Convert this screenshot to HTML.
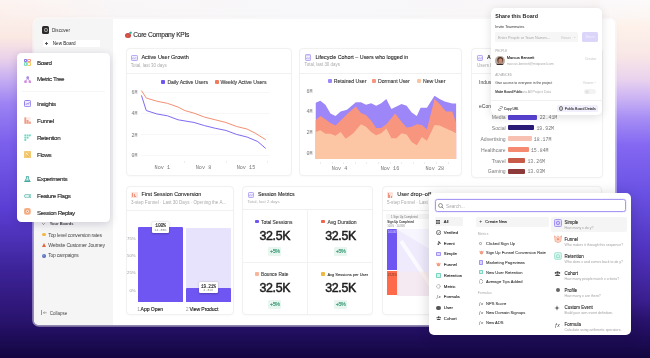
<!DOCTYPE html>
<html><head><meta charset="utf-8">
<style>
*{margin:0;padding:0;box-sizing:border-box}
html,body{width:650px;height:358px;overflow:hidden}
body{position:relative;font-family:"Liberation Sans",sans-serif;background:#fff}
#w{position:absolute;left:0;top:0;width:650px;height:358px;overflow:hidden;will-change:transform;}
.a{position:absolute}
.t{position:absolute;white-space:nowrap;line-height:1}
</style></head><body><div id="w">
<div class="a" style="left:0;top:0;width:650px;height:358px;background:linear-gradient(180deg,#fdf4f1 0px,#fae8e2 38px,#ead2ea 58px,#c4acf2 80px,#9c82f3 104px,#7a5eec 145px,#5a3dd2 210px,#3c2296 272px,#2a1470 318px,#1e0c58 338px,#140640 358px)"></div>
<div class="a" style="left:600px;top:0;width:50px;height:358px;background:linear-gradient(180deg,#fefcfb 0px,#fdf1ea 28px,#f8e6e6 56px,#e8d2ee 80px,#c8b0f4 100px,#a68ef4 118px,#8468f2 145px,#6a52e4 192px,#5034c0 250px,#3a1f90 300px,#2a1470 318px,#1e0c58 338px,#140640 358px)"></div>
<div class="a" style="left:0;top:0;width:650px;height:19px;background:linear-gradient(90deg,rgba(248,247,249,0) 0px,rgba(248,247,249,0.85) 120px,#f8f7f9 325px,rgba(248,247,249,0.85) 560px,rgba(248,247,249,0.3) 650px)"></div>
<div class="a" style="left:33.6px;top:19px;width:581.4px;height:306px;border-radius:5px;background:#fff;box-shadow:0 0 0 1.8px rgba(255,255,255,0.5),0 0 5px rgba(0,0,0,0.06)"></div>
<div class="a" style="left:33.6px;top:19px;width:79.4px;height:306px;border-radius:5px 0 0 5px;background:#f5f5f5"></div>
<div class="a" style="left:42.00px;top:26.40px;width:7.20px;height:7.40px;background:#2b2b2b;border-radius:1.6px"></div>
<div class="a" style="left:43.60px;top:28.00px;width:4.00px;height:4.20px;border:0.7px solid #aaa;border-radius:50%"></div>
<div class="t" style="left:52.00px;top:28.90px;font-size:4.628px;font-weight:400;color:#333;font-family:'Liberation Sans',sans-serif;">Discover</div>
<div class="a" style="left:42.60px;top:39.70px;width:57.00px;height:7.40px;background:#fff;border-radius:1px"></div>
<div class="a" style="left:44.80px;top:42.90px;width:3.20px;height:0.45px;background:#555"></div>
<div class="a" style="left:46.17px;top:41.50px;width:0.45px;height:3.25px;background:#555"></div>
<div class="t" style="left:52.80px;top:42.21px;font-size:4.609px;font-weight:400;color:#222;font-family:'Liberation Sans',sans-serif;">New Board</div>
<div class="t" style="left:49.70px;top:221.88px;font-size:4.049px;font-weight:700;color:#444;font-family:'Liberation Sans',sans-serif;">Your Boards</div>
<svg class="a" style="left:42.2px;top:222.6px" width="3" height="2" viewBox="0 0 6 4"><path d="M0.5 0.5 L3 3 L5.5 0.5" stroke="#444" stroke-width="1.1" fill="none"/></svg>
<div class="a" style="left:42.00px;top:232.60px;width:4.20px;height:3.80px;background:#f2b844;border-radius:1.5px"></div>
<div class="t" style="left:48.30px;top:232.71px;font-size:5.109px;font-weight:400;color:#484848;font-family:'Liberation Sans',sans-serif;letter-spacing:-0.207px;">Top level conversion rates</div>
<div class="a" style="left:41.8px;top:242.6px;width:0;height:0;border-left:2.3px solid transparent;border-right:2.3px solid transparent;border-bottom:4.4px solid #e0683e"></div>
<div class="t" style="left:48.30px;top:242.91px;font-size:5.161px;font-weight:400;color:#484848;font-family:'Liberation Sans',sans-serif;letter-spacing:-0.235px;">Website Customer Journey</div>
<div class="a" style="left:42.00px;top:253.70px;width:4.40px;height:4.40px;background:radial-gradient(circle at 40% 40%,#6fa0e0,#4a3a9a);border-radius:50%"></div>
<div class="t" style="left:48.30px;top:253.93px;font-size:4.955px;font-weight:400;color:#484848;font-family:'Liberation Sans',sans-serif;letter-spacing:-0.233px;">Top campaigns</div>
<div class="a" style="left:41.20px;top:309.90px;width:0.45px;height:5.40px;background:#999"></div>
<svg class="a" style="left:42.6px;top:310.8px" width="4" height="3.6" viewBox="0 0 8 7"><path d="M3.5 0.8 L0.8 3.5 L3.5 6.2 M0.8 3.5 L7.5 3.5" stroke="#666" stroke-width="1" fill="none"/></svg>
<div class="t" style="left:49.70px;top:311.81px;font-size:4.523px;font-weight:400;color:#4a4a4a;font-family:'Liberation Sans',sans-serif;">Collapse</div>
<div class="a" style="left:124.80px;top:33.00px;width:5.80px;height:5.40px;background:radial-gradient(circle at 45% 55%,#e25a4a,#b83a3a);border-radius:50%"></div>
<div class="a" style="left:129.00px;top:32.20px;width:2.50px;height:2.00px;background:#3bb0a0;border-radius:1px;transform:rotate(-30deg)"></div>
<div class="t" style="left:133.20px;top:31.88px;font-size:6.635px;font-weight:400;color:#222;font-family:'Liberation Sans',sans-serif;-webkit-text-stroke:0.09px #222;letter-spacing:-0.264px;">Core Company KPIs</div>
<div class="a" style="left:125.60px;top:48.40px;width:166.20px;height:127.40px;background:#fff;border:0.8px solid #f1f1f1;border-radius:4px;box-shadow:0 0.5px 1.5px rgba(0,0,0,0.025)"></div>
<div class="a" style="left:184.00px;top:160.80px;width:0.60px;height:2.40px;background:#eeeeee"></div>
<div class="a" style="left:225.50px;top:160.80px;width:0.60px;height:2.40px;background:#eeeeee"></div>
<div class="a" style="left:267.00px;top:160.80px;width:0.60px;height:2.40px;background:#eeeeee"></div>
<div class="a" style="left:131.40px;top:54.70px;width:6.20px;height:6.20px;background:#d9d0fb;border:0.6px solid #b9abf6;border-radius:1.2px"></div>
<div class="a" style="left:132.40px;top:55.80px;width:4.20px;height:0.50px;background:#f4f1fe"></div>
<div class="a" style="left:132.40px;top:57.10px;width:4.20px;height:2.80px;background:#ece7fd"></div>
<svg class="a" style="left:132.40px;top:57.10px" width="4.20" height="2.80" viewBox="0 0 10 6" preserveAspectRatio="none"><path d="M0 4.5 L3 2 L6 3.5 L10 1" stroke="#a090f2" stroke-width="1.3" fill="none"/></svg>
<div class="t" style="left:141.40px;top:55.40px;font-size:5.515px;font-weight:400;color:#222;font-family:'Liberation Sans',sans-serif;-webkit-text-stroke:0.09px #222;">Active User Growth</div>
<div class="t" style="left:130.80px;top:63.52px;font-size:4.510px;font-weight:400;color:#aaa;font-family:'Liberation Sans',sans-serif;">Total, last 30 days</div>
<div class="a" style="left:125.60px;top:73.30px;width:166.20px;height:0.70px;background:#f0f0f0"></div>
<div class="a" style="left:161.40px;top:80.40px;width:4.00px;height:4.00px;background:#6f55f2;border-radius:1px"></div>
<div class="t" style="left:167.40px;top:80.31px;font-size:5.150px;font-weight:400;color:#333;font-family:'Liberation Sans',sans-serif;-webkit-text-stroke:0.09px #333;letter-spacing:-0.05px">Daily Active Users</div>
<div class="a" style="left:214.60px;top:80.40px;width:4.00px;height:4.00px;background:#f07a5c;border-radius:1px"></div>
<div class="t" style="left:220.60px;top:80.31px;font-size:5.150px;font-weight:400;color:#333;font-family:'Liberation Sans',sans-serif;-webkit-text-stroke:0.09px #333;letter-spacing:-0.05px">Weekly Active Users</div>
<div class="t" style="left:131.60px;top:91.10px;font-size:4.916px;font-weight:400;color:#777;font-family:'Liberation Mono',monospace;">6M</div>
<div class="a" style="left:141.00px;top:91.70px;width:128.70px;height:0.70px;background:#f7f7f7"></div>
<div class="t" style="left:131.60px;top:112.30px;font-size:4.916px;font-weight:400;color:#777;font-family:'Liberation Mono',monospace;">4M</div>
<div class="a" style="left:141.00px;top:112.90px;width:128.70px;height:0.70px;background:#f7f7f7"></div>
<div class="t" style="left:131.60px;top:133.50px;font-size:4.916px;font-weight:400;color:#777;font-family:'Liberation Mono',monospace;">2M</div>
<div class="a" style="left:141.00px;top:134.10px;width:128.70px;height:0.70px;background:#f7f7f7"></div>
<div class="t" style="left:131.60px;top:154.20px;font-size:4.916px;font-weight:400;color:#777;font-family:'Liberation Mono',monospace;">0M</div>
<div class="a" style="left:141.00px;top:154.80px;width:128.70px;height:0.70px;background:#f7f7f7"></div>
<div class="t" style="left:154.60px;top:166.29px;font-size:5.200px;font-weight:400;color:#777;font-family:'Liberation Mono',monospace;">Nov 1</div>
<div class="t" style="left:195.70px;top:166.29px;font-size:5.200px;font-weight:400;color:#777;font-family:'Liberation Mono',monospace;">Nov 8</div>
<div class="t" style="left:236.64px;top:166.29px;font-size:5.200px;font-weight:400;color:#777;font-family:'Liberation Mono',monospace;">Nov 15</div>
<svg class="a" style="left:125px;top:80px" width="150" height="95" viewBox="0 0 565 358" preserveAspectRatio="none"><polyline points="62,40 80,68 120,80 160,88 200,102 225,115 260,125 300,140 340,150 380,160 420,175 460,185 490,200 530,225" fill="none" stroke="#f08a6c" stroke-width="3.6" stroke-linejoin="round"/><polyline points="62,58 80,115 120,128 160,135 200,150 260,160 300,172 340,182 380,190 420,205 460,215 500,232 530,258" fill="none" stroke="#7a62f0" stroke-width="3.6" stroke-linejoin="round"/></svg>
<div class="a" style="left:299.40px;top:48.40px;width:162.90px;height:127.60px;background:#fff;border:0.8px solid #f1f1f1;border-radius:4px;box-shadow:0 0.5px 1.5px rgba(0,0,0,0.025)"></div>
<div class="a" style="left:320.00px;top:161.60px;width:0.60px;height:2.00px;background:#eeeeee"></div>
<div class="a" style="left:331.60px;top:161.60px;width:0.60px;height:2.00px;background:#eeeeee"></div>
<div class="a" style="left:343.20px;top:161.60px;width:0.60px;height:2.00px;background:#eeeeee"></div>
<div class="a" style="left:354.80px;top:161.60px;width:0.60px;height:2.00px;background:#eeeeee"></div>
<div class="a" style="left:366.40px;top:161.60px;width:0.60px;height:2.00px;background:#eeeeee"></div>
<div class="a" style="left:378.00px;top:161.60px;width:0.60px;height:2.00px;background:#eeeeee"></div>
<div class="a" style="left:389.60px;top:161.60px;width:0.60px;height:2.00px;background:#eeeeee"></div>
<div class="a" style="left:401.20px;top:161.60px;width:0.60px;height:2.00px;background:#eeeeee"></div>
<div class="a" style="left:412.80px;top:161.60px;width:0.60px;height:2.00px;background:#eeeeee"></div>
<div class="a" style="left:424.40px;top:161.60px;width:0.60px;height:2.00px;background:#eeeeee"></div>
<div class="a" style="left:436.00px;top:161.60px;width:0.60px;height:2.00px;background:#eeeeee"></div>
<div class="a" style="left:447.60px;top:161.60px;width:0.60px;height:2.00px;background:#eeeeee"></div>
<div class="a" style="left:304.90px;top:54.40px;width:6.20px;height:6.20px;background:#d9d0fb;border:0.6px solid #b9abf6;border-radius:1.2px"></div>
<div class="a" style="left:305.90px;top:55.50px;width:4.20px;height:0.50px;background:#f4f1fe"></div>
<div class="a" style="left:305.90px;top:56.80px;width:4.20px;height:2.80px;background:#ece7fd"></div>
<svg class="a" style="left:305.90px;top:56.80px" width="4.20" height="2.80" viewBox="0 0 10 6" preserveAspectRatio="none"><path d="M0 4.5 L3 2 L6 3.5 L10 1" stroke="#a090f2" stroke-width="1.3" fill="none"/></svg>
<div class="t" style="left:315.40px;top:55.10px;font-size:5.368px;font-weight:400;color:#222;font-family:'Liberation Sans',sans-serif;-webkit-text-stroke:0.09px #222;">Lifecycle Cohort – Users who logged in</div>
<div class="t" style="left:304.50px;top:62.88px;font-size:4.435px;font-weight:400;color:#aaa;font-family:'Liberation Sans',sans-serif;">Total, last 30 days</div>
<div class="a" style="left:299.40px;top:73.20px;width:162.90px;height:0.70px;background:#f0f0f0"></div>
<div class="a" style="left:327.80px;top:79.00px;width:4.00px;height:4.00px;background:#9d86f8;border-radius:1px"></div>
<div class="t" style="left:333.80px;top:78.89px;font-size:5.200px;font-weight:400;color:#333;font-family:'Liberation Sans',sans-serif;-webkit-text-stroke:0.09px #333;letter-spacing:-0.05px">Retained User</div>
<div class="a" style="left:371.80px;top:79.00px;width:4.00px;height:4.00px;background:#f8957e;border-radius:1px"></div>
<div class="t" style="left:378.00px;top:78.89px;font-size:5.200px;font-weight:400;color:#333;font-family:'Liberation Sans',sans-serif;-webkit-text-stroke:0.09px #333;letter-spacing:-0.05px">Dormant User</div>
<div class="a" style="left:416.60px;top:79.00px;width:4.00px;height:4.00px;background:#fcc3a0;border-radius:1px"></div>
<div class="t" style="left:423.00px;top:78.89px;font-size:5.200px;font-weight:400;color:#333;font-family:'Liberation Sans',sans-serif;-webkit-text-stroke:0.09px #333;letter-spacing:-0.05px">New User</div>
<div class="t" style="left:306.40px;top:88.71px;font-size:4.999px;font-weight:400;color:#777;font-family:'Liberation Mono',monospace;">6M</div>
<div class="t" style="left:306.40px;top:109.21px;font-size:4.999px;font-weight:400;color:#777;font-family:'Liberation Mono',monospace;">4M</div>
<div class="t" style="left:306.40px;top:130.11px;font-size:4.999px;font-weight:400;color:#777;font-family:'Liberation Mono',monospace;">2M</div>
<div class="t" style="left:306.40px;top:151.11px;font-size:4.999px;font-weight:400;color:#777;font-family:'Liberation Mono',monospace;">0M</div>
<svg class="a" style="left:300px;top:85px" width="165" height="90" viewBox="0 0 650 355" preserveAspectRatio="none"><polygon points="62,292 62,70 80,62 100,78 120,112 140,122 160,105 185,98 220,68 240,68 260,78 280,72 300,82 320,72 340,55 360,95 390,80 400,75 420,82 440,108 460,122 475,90 500,90 530,42 550,55 570,65 600,73 615,73 615,292" fill="#9d86f8"/><polygon points="62,292 62,138 80,122 100,135 120,150 140,160 160,140 190,110 220,85 240,110 260,118 280,140 300,170 320,170 340,155 375,112 400,145 420,168 440,165 460,155 480,158 500,175 530,55 550,75 575,105 600,105 615,150 615,292" fill="#f8957e"/><polygon points="62,292 62,185 80,178 100,192 120,192 140,200 160,185 180,212 210,190 240,155 260,165 280,185 300,198 320,190 340,172 360,210 380,210 400,190 420,195 440,225 460,238 480,205 500,220 530,158 550,160 575,172 600,182 615,190 615,292" fill="#fcc6a4"/></svg>
<div class="t" style="left:331.80px;top:166.89px;font-size:5.200px;font-weight:400;color:#777;font-family:'Liberation Mono',monospace;">Nov 4</div>
<div class="t" style="left:380.64px;top:166.89px;font-size:5.200px;font-weight:400;color:#777;font-family:'Liberation Mono',monospace;">Nov 16</div>
<div class="t" style="left:425.44px;top:166.89px;font-size:5.200px;font-weight:400;color:#777;font-family:'Liberation Mono',monospace;">Nov 28</div>
<div class="a" style="left:471.00px;top:48.40px;width:131.50px;height:129.20px;background:#fff;border:0.8px solid #f1f1f1;border-radius:4px;box-shadow:0 0.5px 1.5px rgba(0,0,0,0.025)"></div>
<div class="a" style="left:477.00px;top:54.60px;width:6.20px;height:6.20px;background:#d9d0fb;border:0.6px solid #b9abf6;border-radius:1.2px"></div>
<div class="a" style="left:478.00px;top:55.70px;width:4.20px;height:0.50px;background:#f4f1fe"></div>
<div class="a" style="left:478.00px;top:57.00px;width:4.20px;height:2.80px;background:#ece7fd"></div>
<svg class="a" style="left:478.00px;top:57.00px" width="4.20" height="2.80" viewBox="0 0 10 6" preserveAspectRatio="none"><path d="M0 4.5 L3 2 L6 3.5 L10 1" stroke="#a090f2" stroke-width="1.3" fill="none"/></svg>
<div class="t" style="left:487.00px;top:55.19px;font-size:5.200px;font-weight:700;color:#222;font-family:'Liberation Sans',sans-serif;">A</div>
<div class="t" style="left:477.00px;top:63.51px;font-size:4.600px;font-weight:400;color:#aaa;font-family:'Liberation Sans',sans-serif;">Users b</div>
<div class="a" style="left:471.00px;top:73.20px;width:131.50px;height:0.70px;background:#f0f0f0"></div>
<div class="t" style="left:479.00px;top:80.11px;font-size:5.000px;font-weight:400;color:#444;font-family:'Liberation Sans',sans-serif;">Indust</div>
<div class="t" style="left:479.00px;top:103.61px;font-size:5.000px;font-weight:400;color:#444;font-family:'Liberation Sans',sans-serif;">eCom</div>
<div class="t" style="right:144.40px;top:115.31px;font-size:5.100px;font-weight:400;color:#7a7a7a;font-family:'Liberation Sans',sans-serif;">Media</div>
<div class="a" style="left:508.20px;top:114.80px;width:29.30px;height:4.80px;background:#5b45d8;border-radius:1px"></div>
<div class="t" style="left:539.70px;top:116.31px;font-size:4.900px;font-weight:400;color:#777;font-family:'Liberation Mono',monospace;">22.41M</div>
<div class="t" style="right:144.40px;top:125.81px;font-size:5.100px;font-weight:400;color:#7a7a7a;font-family:'Liberation Sans',sans-serif;">Social</div>
<div class="a" style="left:508.20px;top:125.30px;width:26.00px;height:4.80px;background:#2a1a78;border-radius:1px"></div>
<div class="t" style="left:536.40px;top:126.81px;font-size:4.900px;font-weight:400;color:#777;font-family:'Liberation Mono',monospace;">19.92M</div>
<div class="t" style="right:144.40px;top:136.91px;font-size:5.100px;font-weight:400;color:#7a7a7a;font-family:'Liberation Sans',sans-serif;">Advertising</div>
<div class="a" style="left:508.20px;top:136.40px;width:23.40px;height:4.80px;background:#f7c0b0;border-radius:1px"></div>
<div class="t" style="left:533.80px;top:137.91px;font-size:4.900px;font-weight:400;color:#777;font-family:'Liberation Mono',monospace;">18.17M</div>
<div class="t" style="right:144.40px;top:147.81px;font-size:5.100px;font-weight:400;color:#7a7a7a;font-family:'Liberation Sans',sans-serif;">Healthcare</div>
<div class="a" style="left:508.20px;top:147.30px;width:20.50px;height:4.80px;background:#f58a70;border-radius:1px"></div>
<div class="t" style="left:530.90px;top:148.81px;font-size:4.900px;font-weight:400;color:#777;font-family:'Liberation Mono',monospace;">15.84M</div>
<div class="t" style="right:144.40px;top:158.61px;font-size:5.100px;font-weight:400;color:#7a7a7a;font-family:'Liberation Sans',sans-serif;">Travel</div>
<div class="a" style="left:508.20px;top:158.10px;width:17.00px;height:4.80px;background:#c85a48;border-radius:1px"></div>
<div class="t" style="left:527.40px;top:159.61px;font-size:4.900px;font-weight:400;color:#777;font-family:'Liberation Mono',monospace;">13.26M</div>
<div class="t" style="right:144.40px;top:169.41px;font-size:5.100px;font-weight:400;color:#7a7a7a;font-family:'Liberation Sans',sans-serif;">Gaming</div>
<div class="a" style="left:508.20px;top:168.90px;width:17.00px;height:4.80px;background:#8f3a3a;border-radius:1px"></div>
<div class="t" style="left:527.40px;top:170.41px;font-size:4.900px;font-weight:400;color:#777;font-family:'Liberation Mono',monospace;">13.03M</div>
<div class="a" style="left:125.90px;top:186.00px;width:107.90px;height:128.50px;background:#fff;border:0.8px solid #f1f1f1;border-radius:4px;box-shadow:0 0.5px 1.5px rgba(0,0,0,0.025)"></div>
<div class="a" style="left:242.30px;top:186.00px;width:131.00px;height:128.50px;background:#fff;border:0.8px solid #f1f1f1;border-radius:4px;box-shadow:0 0.5px 1.5px rgba(0,0,0,0.025)"></div>
<div class="a" style="left:381.80px;top:186.00px;width:220.20px;height:128.50px;background:#fff;border:0.8px solid #f1f1f1;border-radius:4px;box-shadow:0 0.5px 1.5px rgba(0,0,0,0.025)"></div>
<div class="a" style="left:131.30px;top:191.60px;width:6.30px;height:6.30px;background:#fde3dc;border-radius:1.2px"></div>
<div class="a" style="left:132.20px;top:192.50px;width:1.20px;height:4.50px;background:#f0937c"></div>
<div class="a" style="left:133.60px;top:194.20px;width:1.20px;height:2.80px;background:#f0937c"></div>
<div class="a" style="left:135.00px;top:195.50px;width:1.20px;height:1.50px;background:#f0937c"></div>
<div class="t" style="left:141.60px;top:192.49px;font-size:5.398px;font-weight:400;color:#222;font-family:'Liberation Sans',sans-serif;-webkit-text-stroke:0.09px #222;">First Session Conversion</div>
<div class="t" style="left:130.90px;top:201.32px;font-size:4.579px;font-weight:400;color:#aaa;font-family:'Liberation Sans',sans-serif;">3-step Funnel · Last 30 Days · Opening the A...</div>
<div class="a" style="left:125.90px;top:210.20px;width:107.90px;height:0.70px;background:#f0f0f0"></div>
<div class="t" style="right:514.30px;top:236.60px;font-size:4.300px;font-weight:400;color:#999;font-family:'Liberation Sans',sans-serif;">75%</div>
<div class="t" style="right:514.30px;top:254.40px;font-size:4.300px;font-weight:400;color:#999;font-family:'Liberation Sans',sans-serif;">50%</div>
<div class="t" style="right:514.30px;top:271.00px;font-size:4.300px;font-weight:400;color:#999;font-family:'Liberation Sans',sans-serif;">25%</div>
<div class="t" style="right:514.30px;top:288.50px;font-size:4.300px;font-weight:400;color:#999;font-family:'Liberation Sans',sans-serif;">0%</div>
<div class="a" style="left:137.70px;top:227.00px;width:44.90px;height:74.80px;background:#6f55f2;border-radius:1px 1px 0 0"></div>
<div class="a" style="left:186.00px;top:228.00px;width:45.00px;height:73.80px;background:#e8e3fc;border-radius:1px 1px 0 0"></div>
<div class="a" style="left:186.00px;top:287.50px;width:45.00px;height:14.30px;background:#6f55f2;border-radius:1px 1px 0 0"></div>
<div class="a" style="left:152.00px;top:221.70px;width:17.00px;height:11.20px;background:#fff;border-radius:1.2px;box-shadow:0 0.5px 2px rgba(0,0,0,0.25)"></div>
<div class="t" style="left:155.34px;top:224.41px;font-size:4.800px;font-weight:400;color:#222;font-family:'Liberation Mono',monospace;-webkit-text-stroke:0.09px #222;letter-spacing:-0.3px">100%</div>
<div class="t" style="left:154.56px;top:228.90px;font-size:3.300px;font-weight:400;color:#888;font-family:'Liberation Mono',monospace;">14.85K</div>
<div class="a" style="left:198.90px;top:282.20px;width:18.90px;height:10.80px;background:#fff;border-radius:1.2px;box-shadow:0 0.5px 2px rgba(0,0,0,0.25)"></div>
<div class="t" style="left:200.95px;top:284.82px;font-size:4.500px;font-weight:400;color:#222;font-family:'Liberation Mono',monospace;-webkit-text-stroke:0.09px #222;letter-spacing:-0.25px">19.21%</div>
<div class="t" style="left:203.35px;top:289.20px;font-size:3.300px;font-weight:400;color:#888;font-family:'Liberation Mono',monospace;">4.32K</div>
<div class="t" style="left:137.20px;top:306.51px;font-size:5.100px;font-weight:400;color:#999;font-family:'Liberation Sans',sans-serif;">1</div>
<div class="t" style="left:140.60px;top:306.51px;font-size:5.100px;font-weight:400;color:#222;font-family:'Liberation Sans',sans-serif;-webkit-text-stroke:0.13px #222;letter-spacing:-0.08px">App Open</div>
<div class="t" style="left:185.80px;top:306.51px;font-size:5.100px;font-weight:400;color:#999;font-family:'Liberation Sans',sans-serif;">2</div>
<div class="t" style="left:189.40px;top:306.51px;font-size:5.100px;font-weight:400;color:#222;font-family:'Liberation Sans',sans-serif;-webkit-text-stroke:0.13px #222;letter-spacing:-0.08px">View Product</div>
<div class="a" style="left:248.10px;top:191.70px;width:6.00px;height:6.00px;background:#d9d0fb;border:0.6px solid #b9abf6;border-radius:1.2px"></div>
<div class="a" style="left:249.10px;top:192.80px;width:4.00px;height:0.50px;background:#f4f1fe"></div>
<div class="a" style="left:249.10px;top:194.10px;width:4.00px;height:2.60px;background:#ece7fd"></div>
<svg class="a" style="left:249.10px;top:194.10px" width="4.00" height="2.60" viewBox="0 0 10 6" preserveAspectRatio="none"><path d="M0 4.5 L3 2 L6 3.5 L10 1" stroke="#a090f2" stroke-width="1.3" fill="none"/></svg>
<div class="t" style="left:258.00px;top:192.38px;font-size:5.214px;font-weight:400;color:#222;font-family:'Liberation Sans',sans-serif;-webkit-text-stroke:0.09px #222;">Session Metrics</div>
<div class="t" style="left:247.40px;top:200.28px;font-size:4.337px;font-weight:400;color:#aaa;font-family:'Liberation Sans',sans-serif;">Total, last 2 days</div>
<div class="a" style="left:242.30px;top:209.40px;width:131.00px;height:0.70px;background:#f0f0f0"></div>
<div class="a" style="left:307.00px;top:210.00px;width:0.70px;height:104.00px;background:#f2f2f2"></div>
<div class="a" style="left:242.30px;top:262.30px;width:131.00px;height:0.70px;background:#f2f2f2"></div>
<div class="a" style="left:255.00px;top:219.70px;width:4.00px;height:3.60px;background:#6f55f2;border-radius:0.9px"></div>
<div class="t" style="left:261.00px;top:220.72px;font-size:4.870px;font-weight:400;color:#333;font-family:'Liberation Sans',sans-serif;-webkit-text-stroke:0.09px #333;">Total Sessions</div>
<div class="t" style="left:259.55px;top:229.81px;font-size:12.400px;font-weight:400;color:#1e1e1e;font-family:'Liberation Sans',sans-serif;-webkit-text-stroke:0.5px #1e1e1e;letter-spacing:-0.38px">32.5K</div>
<div class="a" style="left:268.20px;top:246.80px;width:13.20px;height:8.80px;background:#e9f6ef;border-radius:1.2px"></div>
<div class="t" style="left:270.00px;top:249.09px;font-size:5.400px;font-weight:400;color:#3a9a78;font-family:'Liberation Sans',sans-serif;letter-spacing:-0.45px;-webkit-text-stroke:0.15px #3a9a78">+5%</div>
<div class="a" style="left:321.40px;top:219.70px;width:4.00px;height:3.60px;background:#f0644a;border-radius:0.9px"></div>
<div class="t" style="left:327.40px;top:219.72px;font-size:5.084px;font-weight:400;color:#333;font-family:'Liberation Sans',sans-serif;-webkit-text-stroke:0.09px #333;">Avg Duration</div>
<div class="t" style="left:325.35px;top:229.81px;font-size:12.400px;font-weight:400;color:#1e1e1e;font-family:'Liberation Sans',sans-serif;-webkit-text-stroke:0.5px #1e1e1e;letter-spacing:-0.38px">32.5K</div>
<div class="a" style="left:334.00px;top:246.80px;width:13.20px;height:8.80px;background:#e9f6ef;border-radius:1.2px"></div>
<div class="t" style="left:335.80px;top:249.09px;font-size:5.400px;font-weight:400;color:#3a9a78;font-family:'Liberation Sans',sans-serif;letter-spacing:-0.45px;-webkit-text-stroke:0.15px #3a9a78">+5%</div>
<div class="a" style="left:255.00px;top:272.40px;width:4.00px;height:3.60px;background:#f9b59a;border-radius:0.9px"></div>
<div class="t" style="left:261.00px;top:273.43px;font-size:4.756px;font-weight:400;color:#333;font-family:'Liberation Sans',sans-serif;-webkit-text-stroke:0.09px #333;">Bounce Rate</div>
<div class="t" style="left:259.55px;top:282.21px;font-size:12.400px;font-weight:400;color:#1e1e1e;font-family:'Liberation Sans',sans-serif;-webkit-text-stroke:0.5px #1e1e1e;letter-spacing:-0.38px">32.5K</div>
<div class="a" style="left:268.20px;top:299.80px;width:13.20px;height:8.80px;background:#e9f6ef;border-radius:1.2px"></div>
<div class="t" style="left:270.00px;top:302.09px;font-size:5.400px;font-weight:400;color:#3a9a78;font-family:'Liberation Sans',sans-serif;letter-spacing:-0.45px;-webkit-text-stroke:0.15px #3a9a78">+5%</div>
<div class="a" style="left:321.40px;top:272.40px;width:4.00px;height:3.60px;background:#f0b840;border-radius:0.9px"></div>
<div class="t" style="left:327.40px;top:272.78px;font-size:4.038px;font-weight:400;color:#333;font-family:'Liberation Sans',sans-serif;-webkit-text-stroke:0.09px #333;">Avg Sessions per User</div>
<div class="t" style="left:325.35px;top:282.21px;font-size:12.400px;font-weight:400;color:#1e1e1e;font-family:'Liberation Sans',sans-serif;-webkit-text-stroke:0.5px #1e1e1e;letter-spacing:-0.38px">32.5K</div>
<div class="a" style="left:334.00px;top:299.80px;width:13.20px;height:8.80px;background:#e9f6ef;border-radius:1.2px"></div>
<div class="t" style="left:335.80px;top:302.09px;font-size:5.400px;font-weight:400;color:#3a9a78;font-family:'Liberation Sans',sans-serif;letter-spacing:-0.45px;-webkit-text-stroke:0.15px #3a9a78">+5%</div>
<div class="a" style="left:387.00px;top:192.20px;width:6.30px;height:6.30px;background:#fde3dc;border-radius:1.2px"></div>
<div class="a" style="left:387.90px;top:193.10px;width:1.20px;height:4.50px;background:#f0937c"></div>
<div class="a" style="left:389.30px;top:194.80px;width:1.20px;height:2.80px;background:#f0937c"></div>
<div class="a" style="left:390.70px;top:196.10px;width:1.20px;height:1.50px;background:#f0937c"></div>
<div class="t" style="left:397.20px;top:192.49px;font-size:5.600px;font-weight:400;color:#222;font-family:'Liberation Sans',sans-serif;-webkit-text-stroke:0.09px #222;">User drop–off</div>
<div class="t" style="left:387.00px;top:200.91px;font-size:4.600px;font-weight:400;color:#aaa;font-family:'Liberation Sans',sans-serif;">5-step Funnel · Last</div>
<div class="a" style="left:381.80px;top:210.40px;width:220.20px;height:0.70px;background:#f0f0f0"></div>
<div class="a" style="left:386.40px;top:214.00px;width:53.60px;height:4.60px;background:#f5f5f5;border-radius:1px"></div>
<div class="t" style="left:391.00px;top:215.80px;font-size:2.800px;font-weight:400;color:#777;font-family:'Liberation Sans',sans-serif;">1  Sign Up Completed</div>
<div class="t" style="left:387.20px;top:221.30px;font-size:2.900px;font-weight:700;color:#333;font-family:'Liberation Sans',sans-serif;">Sign Up Completed</div>
<div class="t" style="left:387.20px;top:225.70px;font-size:2.700px;font-weight:400;color:#888;font-family:'Liberation Sans',sans-serif;">100%  ·  14.85K</div>
<svg class="a" style="left:396.8px;top:228.6px" width="36" height="67" viewBox="0 0 36 67"><polygon points="0,0 36,22 36,67 0,67" fill="#efebfd"/><polygon points="0,0 36,0 36,22" fill="#f7f5fe"/><path d="M4 12 L36 60" stroke="#fbfaff" stroke-width="4"/><rect x="0" y="42.8" width="36" height="24" fill="#fde9e2" opacity="0.45"/></svg>
<div class="a" style="left:386.70px;top:228.60px;width:10.10px;height:41.40px;background:#6f55f2;border-radius:1px 1px 0 0"></div>
<div class="t" style="left:388.00px;top:231.70px;font-size:2.600px;font-weight:400;color:#e0dafc;font-family:'Liberation Sans',sans-serif;">100.00%</div>
<div class="a" style="left:386.70px;top:271.40px;width:10.10px;height:24.10px;background:#ff6a4a"></div>
<div class="t" style="left:388.00px;top:274.50px;font-size:2.600px;font-weight:400;color:#5a2a1a;font-family:'Liberation Sans',sans-serif;">47.21%</div>
<div class="a" style="left:17.3px;top:52.5px;width:92.3px;height:169px;background:#fff;border-radius:4.5px;box-shadow:0 2px 8px rgba(40,20,80,0.18)"></div>
<div class="t" style="left:37.00px;top:59.62px;font-size:6.268px;font-weight:400;color:#2a2a2a;font-family:'Liberation Sans',sans-serif;-webkit-text-stroke:0.14px #2a2a2a;letter-spacing:-0.436px;">Board</div>
<div class="t" style="left:37.00px;top:76.42px;font-size:6.268px;font-weight:400;color:#2a2a2a;font-family:'Liberation Sans',sans-serif;-webkit-text-stroke:0.14px #2a2a2a;letter-spacing:-0.372px;">Metric Tree</div>
<div class="t" style="left:37.00px;top:101.02px;font-size:6.268px;font-weight:400;color:#2a2a2a;font-family:'Liberation Sans',sans-serif;-webkit-text-stroke:0.14px #2a2a2a;letter-spacing:-0.352px;">Insights</div>
<div class="t" style="left:37.00px;top:118.02px;font-size:6.268px;font-weight:400;color:#2a2a2a;font-family:'Liberation Sans',sans-serif;-webkit-text-stroke:0.14px #2a2a2a;letter-spacing:-0.417px;">Funnel</div>
<div class="t" style="left:37.00px;top:134.72px;font-size:6.268px;font-weight:400;color:#2a2a2a;font-family:'Liberation Sans',sans-serif;-webkit-text-stroke:0.14px #2a2a2a;letter-spacing:-0.389px;">Retention</div>
<div class="t" style="left:37.00px;top:151.52px;font-size:6.268px;font-weight:400;color:#2a2a2a;font-family:'Liberation Sans',sans-serif;-webkit-text-stroke:0.14px #2a2a2a;letter-spacing:-0.427px;">Flows</div>
<div class="t" style="left:37.00px;top:176.12px;font-size:6.268px;font-weight:400;color:#2a2a2a;font-family:'Liberation Sans',sans-serif;-webkit-text-stroke:0.14px #2a2a2a;letter-spacing:-0.413px;">Experiments</div>
<div class="t" style="left:37.00px;top:193.02px;font-size:6.267px;font-weight:400;color:#2a2a2a;font-family:'Liberation Sans',sans-serif;-webkit-text-stroke:0.14px #2a2a2a;letter-spacing:-0.388px;">Feature Flags</div>
<div class="t" style="left:37.00px;top:210.02px;font-size:6.268px;font-weight:400;color:#2a2a2a;font-family:'Liberation Sans',sans-serif;-webkit-text-stroke:0.14px #2a2a2a;letter-spacing:-0.406px;">Session Replay</div>
<div class="a" style="left:22.00px;top:91.20px;width:83.00px;height:0.60px;background:#f6f6f6"></div>
<div class="a" style="left:23.80px;top:58.70px;width:3.60px;height:3.60px;border:1.35px solid #8572ea;border-radius:0.9px;background:#fbfbfb"></div>
<div class="a" style="left:27.40px;top:58.70px;width:3.60px;height:3.60px;border:1.35px solid #f39a84;border-radius:0.9px;background:#fbfbfb"></div>
<div class="a" style="left:23.80px;top:62.30px;width:3.60px;height:3.60px;border:1.35px solid #7ddcbc;border-radius:0.9px;background:#fbfbfb"></div>
<div class="a" style="left:27.40px;top:62.30px;width:3.60px;height:3.60px;border:1.35px solid #f6ca62;border-radius:0.9px;background:#fbfbfb"></div>
<svg class="a" style="left:23.8px;top:75.6px" width="7.4" height="7.4" viewBox="0 0 10 10"><path d="M5 3 L2 7.5 M5 3 L8 7.5" stroke="#c89be8" stroke-width="1.2"/><circle cx="5" cy="2.4" r="1.9" fill="#a58ae8"/><circle cx="2" cy="7.8" r="1.9" fill="#d490e0"/><circle cx="8" cy="7.8" r="1.9" fill="#d490e0"/></svg>
<svg class="a" style="left:23.9px;top:100.1px" width="7.2" height="7.2" viewBox="0 0 10 10"><rect x="0.7" y="0.7" width="8.6" height="8.6" rx="1.5" fill="#efebfd" stroke="#8a78ec" stroke-width="1.3"/><path d="M2.5 7 L4.3 4.5 L5.8 6 L7.6 3" stroke="#8a78ec" stroke-width="1.1" fill="none"/></svg>
<svg class="a" style="left:23.9px;top:117.2px" width="7.2" height="7.2" viewBox="0 0 10 10"><rect x="0.5" y="0.5" width="2.8" height="9" fill="#f29a84"/><rect x="3.6" y="4" width="2.8" height="5.5" fill="#f29a84"/><rect x="6.7" y="6.3" width="2.8" height="3.2" fill="#f29a84"/><rect x="3.6" y="0.5" width="5.9" height="3.2" fill="#fde9e3"/></svg>
<svg class="a" style="left:23.9px;top:133.6px" width="7.2" height="7.4" viewBox="0 0 10 10"><g fill="#74d8c4"><rect x="0.5" y="0.5" width="2.6" height="2.6"/><rect x="3.7" y="0.5" width="2.6" height="2.6"/><rect x="6.9" y="0.5" width="2.6" height="2.6"/><rect x="0.5" y="3.7" width="2.6" height="2.6"/><rect x="3.7" y="3.7" width="2.6" height="2.6"/><rect x="0.5" y="6.9" width="2.6" height="2.6"/></g></svg>
<svg class="a" style="left:23.9px;top:150.8px" width="7.2" height="7.2" viewBox="0 0 10 10"><rect x="0" y="0" width="10" height="10" rx="1" fill="#f3cb74"/><path d="M3 3 L7 7" stroke="#fff" stroke-width="1.2"/><path d="M7 4 L7 7 L4 7" stroke="#e8a040" stroke-width="0.9" fill="none"/></svg>
<svg class="a" style="left:24.3px;top:175.6px" width="6.8" height="6.6" viewBox="0 0 10 10"><path d="M3.5 0.5 H6.5 V3.5 L9.5 9.5 H0.5 L3.5 3.5 Z" fill="#c8ece6" stroke="#3fa89e" stroke-width="1.3" stroke-linejoin="round"/><path d="M2 7 H8 L9 9.3 H1 Z" fill="#3fa89e"/></svg>
<svg class="a" style="left:23.6px;top:193.6px" width="7.8" height="4.2" viewBox="0 0 13 7"><rect x="0.7" y="0.7" width="11.6" height="5.6" rx="2.8" fill="#dff3ef" stroke="#6ac0b0" stroke-width="1.3"/><circle cx="9.4" cy="3.5" r="1.6" fill="#6ac0b0"/></svg>
<svg class="a" style="left:24.3px;top:208.4px" width="6.8" height="6.8" viewBox="0 0 10 10"><rect x="0" y="0" width="10" height="10" rx="3" fill="#f6b48a"/><circle cx="5" cy="5" r="3" fill="#fde6d6" stroke="#ee8a5a" stroke-width="1"/><circle cx="5" cy="5" r="1" fill="#ee8a5a"/></svg>
<div class="a" style="left:491.4px;top:7.6px;width:110.4px;height:107.4px;background:#fff;border-radius:5px;box-shadow:0 2px 10px rgba(0,0,0,0.13)"></div>
<div class="t" style="left:495.30px;top:13.69px;font-size:5.349px;font-weight:700;color:#262626;font-family:'Liberation Sans',sans-serif;">Share this Board</div>
<div class="t" style="left:495.30px;top:26.28px;font-size:3.735px;font-weight:400;color:#333;font-family:'Liberation Sans',sans-serif;">Invite Teammates</div>
<div class="a" style="left:495.30px;top:32.40px;width:83.20px;height:9.80px;background:#f6f6f6;border-radius:1.5px"></div>
<div class="t" style="left:498.00px;top:36.68px;font-size:3.747px;font-weight:400;color:#aaa;font-family:'Liberation Sans',sans-serif;">Enter People or Team Names...</div>
<div class="t" style="left:560.80px;top:36.70px;font-size:3.300px;font-weight:400;color:#c4c4c4;font-family:'Liberation Sans',sans-serif;">Viewer</div>
<div class="t" style="left:572.50px;top:35.90px;font-size:3.500px;font-weight:400;color:#c4c4c4;font-family:'Liberation Sans',sans-serif;">⌄</div>
<div class="a" style="left:582.00px;top:31.90px;width:15.90px;height:9.70px;background:#dcd5fa;border-radius:1.5px"></div>
<div class="t" style="left:585.41px;top:36.30px;font-size:3.300px;font-weight:700;color:#ece8fd;font-family:'Liberation Sans',sans-serif;">Share</div>
<div class="t" style="left:495.20px;top:49.70px;font-size:2.999px;font-weight:400;color:#a0a0a0;font-family:'Liberation Sans',sans-serif;">PEOPLE</div>
<div class="a" style="left:495.20px;top:55.50px;width:9.90px;height:9.80px;background:#d8d0cc;border-radius:50%;overflow:hidden"></div>
<svg class="a" style="left:495.2px;top:55.5px" width="9.9" height="9.8" viewBox="0 0 10 10"><defs><clipPath id="av"><circle cx="5" cy="5" r="5"/></clipPath></defs><g clip-path="url(#av)"><rect width="10" height="10" fill="#b8aaa0"/><ellipse cx="5.3" cy="4.2" rx="3" ry="3.3" fill="#4a2e26"/><ellipse cx="5.5" cy="5" rx="2.2" ry="2.6" fill="#c48a70"/><rect x="1" y="8" width="8" height="3" fill="#3a2a2a"/></g></svg>
<div class="t" style="left:506.80px;top:56.08px;font-size:3.942px;font-weight:400;color:#222;font-family:'Liberation Sans',sans-serif;-webkit-text-stroke:0.09px #222;">Marcus Bennett</div>
<div class="t" style="left:506.80px;top:62.68px;font-size:3.346px;font-weight:400;color:#aaa;font-family:'Liberation Sans',sans-serif;">marcus.bennett@mixpanel.com</div>
<div class="t" style="left:584.90px;top:58.08px;font-size:3.449px;font-weight:400;color:#c8c8c8;font-family:'Liberation Sans',sans-serif;">Creator</div>
<div class="t" style="left:495.20px;top:73.82px;font-size:3.064px;font-weight:400;color:#a0a0a0;font-family:'Liberation Sans',sans-serif;">ADVANCED</div>
<div class="t" style="left:495.20px;top:81.62px;font-size:3.362px;font-weight:400;color:#3a3a3a;font-family:'Liberation Sans',sans-serif;">Give access to everyone in the project</div>
<div class="t" style="left:582.80px;top:81.62px;font-size:3.565px;font-weight:400;color:#c8c8c8;font-family:'Liberation Sans',sans-serif;">Viewer  ›</div>
<div class="t" style="left:495.20px;top:90.82px;font-size:3.251px;font-weight:400;color:#333;font-family:'Liberation Sans',sans-serif;-webkit-text-stroke:0.09px #333;">Make Board Public</div>
<div class="t" style="left:522.80px;top:90.81px;font-size:3.384px;font-weight:400;color:#aaa;font-family:'Liberation Sans',sans-serif;">via All Project Data</div>
<div class="a" style="left:584.30px;top:89.00px;width:11.50px;height:5.20px;background:#f3f3f3;border-radius:3px"></div>
<div class="a" style="left:584.90px;top:89.50px;width:4.40px;height:4.20px;background:#e4e4e4;border-radius:50%"></div>
<div class="a" style="left:491.40px;top:99.70px;width:110.40px;height:0.60px;background:#f0f0f0"></div>
<svg class="a" style="left:497.8px;top:105.9px" width="5" height="5" viewBox="0 0 10 10"><path d="M4 6 L6 4 M3 5 L1.5 6.5 a2 2 0 0 0 2.8 2.8 L6 7.5 M7 5 L8.5 3.5 a2 2 0 0 0 -2.8 -2.8 L4 2.5" stroke="#555" stroke-width="1.3" fill="none"/></svg>
<div class="t" style="left:504.00px;top:107.79px;font-size:3.227px;font-weight:400;color:#333;font-family:'Liberation Sans',sans-serif;-webkit-text-stroke:0.09px #333;">Copy URL</div>
<div class="a" style="left:556.60px;top:104.70px;width:41.30px;height:7.70px;background:#f3f0fd;border-radius:1.5px"></div>
<div class="a" style="left:559.10px;top:106.40px;width:4.20px;height:4.20px;background:#d0d0d0;border-radius:50%;border:0.8px solid #777"></div>
<div class="t" style="left:564.80px;top:107.88px;font-size:3.445px;font-weight:400;color:#333;font-family:'Liberation Sans',sans-serif;-webkit-text-stroke:0.09px #333;">Public Board Details</div>
<div class="a" style="left:428.7px;top:192.6px;width:202.5px;height:142.6px;background:#fff;border-radius:5px;box-shadow:0 2px 14px rgba(0,0,0,0.17)"></div>
<div class="a" style="left:434.70px;top:199.20px;width:191.30px;height:13.20px;border:0.9px solid #a898f2;border-radius:2.5px;background:#fff;box-shadow:0 0 0 0.6px #e8e3fc"></div>
<svg class="a" style="left:437.8px;top:202.6px" width="6" height="6" viewBox="0 0 10 10"><circle cx="4.2" cy="4.2" r="3.2" stroke="#666" stroke-width="1.2" fill="none"/><path d="M6.6 6.6 L9.2 9.2" stroke="#666" stroke-width="1.3"/></svg>
<div class="t" style="left:446.00px;top:204.91px;font-size:4.700px;font-weight:400;color:#aaa;font-family:'Liberation Sans',sans-serif;">Search...</div>
<div class="a" style="left:434.70px;top:217.40px;width:28.80px;height:9.10px;background:#f4f4f4;border-radius:1.5px"></div>
<div class="t" style="left:443.80px;top:220.10px;font-size:4.300px;font-weight:400;color:#222;font-family:'Liberation Sans',sans-serif;-webkit-text-stroke:0.09px #222;">All</div>
<div class="t" style="left:443.80px;top:231.00px;font-size:4.300px;font-weight:400;color:#222;font-family:'Liberation Sans',sans-serif;-webkit-text-stroke:0.09px #222;">Verified</div>
<div class="t" style="left:443.80px;top:241.70px;font-size:4.300px;font-weight:400;color:#222;font-family:'Liberation Sans',sans-serif;-webkit-text-stroke:0.09px #222;">Event</div>
<div class="t" style="left:443.80px;top:252.40px;font-size:4.300px;font-weight:400;color:#222;font-family:'Liberation Sans',sans-serif;-webkit-text-stroke:0.09px #222;">Simple</div>
<div class="t" style="left:443.80px;top:262.80px;font-size:4.300px;font-weight:400;color:#222;font-family:'Liberation Sans',sans-serif;-webkit-text-stroke:0.09px #222;">Funnel</div>
<div class="t" style="left:443.80px;top:273.70px;font-size:4.300px;font-weight:400;color:#222;font-family:'Liberation Sans',sans-serif;-webkit-text-stroke:0.09px #222;">Retention</div>
<div class="t" style="left:443.80px;top:284.80px;font-size:4.300px;font-weight:400;color:#222;font-family:'Liberation Sans',sans-serif;-webkit-text-stroke:0.09px #222;">Metric</div>
<div class="t" style="left:443.80px;top:295.30px;font-size:4.300px;font-weight:400;color:#222;font-family:'Liberation Sans',sans-serif;-webkit-text-stroke:0.09px #222;">Formula</div>
<div class="t" style="left:443.80px;top:306.30px;font-size:4.300px;font-weight:400;color:#222;font-family:'Liberation Sans',sans-serif;-webkit-text-stroke:0.09px #222;">User</div>
<div class="t" style="left:443.80px;top:317.10px;font-size:4.300px;font-weight:400;color:#222;font-family:'Liberation Sans',sans-serif;-webkit-text-stroke:0.09px #222;">Cohort</div>
<svg class="a" style="left:436.3px;top:219.7px" width="4" height="4.2" viewBox="0 0 8 9"><g fill="#333"><rect x="0" y="0" width="3.4" height="2.4"/><rect x="4.6" y="0" width="3.4" height="2.4"/><rect x="0" y="3.3" width="3.4" height="2.4"/><rect x="4.6" y="3.3" width="3.4" height="2.4"/><rect x="0" y="6.6" width="3.4" height="2.4"/><rect x="4.6" y="6.6" width="3.4" height="2.4"/></g></svg>
<svg class="a" style="left:436px;top:230px" width="5.2" height="5.2" viewBox="0 0 10 10"><circle cx="5" cy="5" r="4.2" stroke="#333" stroke-width="1.2" fill="none"/><path d="M3 5.2 L4.5 6.7 L7.2 3.6" stroke="#333" stroke-width="1.1" fill="none"/></svg>
<svg class="a" style="left:436.6px;top:241px" width="4.4" height="4.4" viewBox="0 0 10 10"><path d="M2 2 L7 7 L9 5 L4 0 Z" fill="#444"/><circle cx="3" cy="7" r="2" fill="#444"/></svg>
<div class="a" style="left:436.00px;top:251.80px;width:4.80px;height:4.50px;background:#ddd5fc;border:0.6px solid #a594f3;border-radius:0.8px"></div>
<svg class="a" style="left:435.9px;top:262px" width="5" height="4.8" viewBox="0 0 10 10"><path d="M0.5 1 L3 3 L5 1 L7 3 L9.5 1 L8 8 L5 9.5 L2 8 Z" fill="#f39a80"/></svg>
<div class="a" style="left:436.00px;top:273.00px;width:4.80px;height:4.60px;background:#d4f4ea;border:0.6px solid #7ad4bf;border-radius:0.8px"></div>
<svg class="a" style="left:436px;top:284px" width="4.8" height="4.8" viewBox="0 0 10 10"><circle cx="5" cy="5" r="3.8" stroke="#555" stroke-width="1.3" fill="none" stroke-dasharray="1.5 1"/></svg>
<div class="t" style="left:436.00px;top:295.30px;font-size:4.400px;font-weight:400;color:#444;font-family:'Liberation Sans',sans-serif;font-style:italic">ƒx</div>
<div class="a" style="left:436.20px;top:305.50px;width:4.40px;height:4.40px;background:#555;border-radius:50%"></div>
<svg class="a" style="left:435.8px;top:316.4px" width="5.4" height="4.2" viewBox="0 0 12 9"><circle cx="6" cy="2.8" r="2.2" fill="#444"/><path d="M1 9 Q6 3 11 9 Z" fill="#444"/><circle cx="2.5" cy="3.5" r="1.5" fill="#444"/><circle cx="9.5" cy="3.5" r="1.5" fill="#444"/></svg>
<div class="a" style="left:475.50px;top:217.40px;width:73.80px;height:9.20px;background:#f5f5f5;border-radius:1.5px"></div>
<div class="t" style="left:479.20px;top:219.41px;font-size:5.000px;font-weight:400;color:#333;font-family:'Liberation Sans',sans-serif;">+</div>
<div class="t" style="left:485.30px;top:220.18px;font-size:4.148px;font-weight:400;color:#222;font-family:'Liberation Sans',sans-serif;-webkit-text-stroke:0.09px #222;">Create New</div>
<div class="t" style="left:477.80px;top:233.40px;font-size:3.300px;font-weight:400;color:#aaa;font-family:'Liberation Sans',sans-serif;">Metrics</div>
<div class="t" style="left:486.00px;top:241.80px;font-size:4.100px;font-weight:400;color:#333;font-family:'Liberation Sans',sans-serif;-webkit-text-stroke:0.09px #333;-webkit-text-stroke:0.06px #333">Clicked Sign Up</div>
<div class="a" style="left:479.40px;top:242.00px;width:2.60px;height:2.60px;border:0.6px solid #999;border-radius:50%"></div>
<div class="t" style="left:486.00px;top:251.20px;font-size:4.100px;font-weight:400;color:#333;font-family:'Liberation Sans',sans-serif;-webkit-text-stroke:0.09px #333;-webkit-text-stroke:0.06px #333">Sign Up Funnel Conversion Rate</div>
<svg class="a" style="left:478.6px;top:250.20px" width="5" height="4.8" viewBox="0 0 10 10"><path d="M0.5 1 L3 3 L5 1 L7 3 L9.5 1 L8 8 L5 9.5 L2 8 Z" fill="#f39a80"/></svg>
<div class="t" style="left:486.00px;top:260.90px;font-size:4.100px;font-weight:400;color:#333;font-family:'Liberation Sans',sans-serif;-webkit-text-stroke:0.09px #333;-webkit-text-stroke:0.06px #333">Marketing Pageviews</div>
<div class="a" style="left:478.60px;top:260.10px;width:4.80px;height:4.60px;background:#ddd5fc;border:0.6px solid #a594f3;border-radius:0.8px"></div>
<div class="t" style="left:486.00px;top:270.60px;font-size:4.100px;font-weight:400;color:#333;font-family:'Liberation Sans',sans-serif;-webkit-text-stroke:0.09px #333;-webkit-text-stroke:0.06px #333">New User Retention</div>
<div class="a" style="left:478.60px;top:269.80px;width:4.80px;height:4.60px;background:#d4f4ea;border:0.6px solid #7ad4bf;border-radius:0.8px"></div>
<div class="t" style="left:486.00px;top:280.20px;font-size:4.100px;font-weight:400;color:#333;font-family:'Liberation Sans',sans-serif;-webkit-text-stroke:0.09px #333;-webkit-text-stroke:0.06px #333">Average Tips Added</div>
<div class="a" style="left:478.60px;top:279.30px;width:4.80px;height:4.80px;border:0.8px dotted #888;border-radius:50%"></div>
<div class="t" style="left:477.80px;top:292.40px;font-size:3.300px;font-weight:400;color:#aaa;font-family:'Liberation Sans',sans-serif;">Formulas</div>
<div class="t" style="left:478.60px;top:301.80px;font-size:4.400px;font-weight:400;color:#444;font-family:'Liberation Sans',sans-serif;font-style:italic">ƒx</div>
<div class="t" style="left:486.00px;top:301.80px;font-size:4.100px;font-weight:400;color:#333;font-family:'Liberation Sans',sans-serif;-webkit-text-stroke:0.09px #333;-webkit-text-stroke:0.06px #333">NPS Score</div>
<div class="t" style="left:478.60px;top:311.20px;font-size:4.400px;font-weight:400;color:#444;font-family:'Liberation Sans',sans-serif;font-style:italic">ƒx</div>
<div class="t" style="left:486.00px;top:311.20px;font-size:4.100px;font-weight:400;color:#333;font-family:'Liberation Sans',sans-serif;-webkit-text-stroke:0.09px #333;-webkit-text-stroke:0.06px #333">New Domain Signups</div>
<div class="t" style="left:478.60px;top:320.90px;font-size:4.400px;font-weight:400;color:#444;font-family:'Liberation Sans',sans-serif;font-style:italic">ƒx</div>
<div class="t" style="left:486.00px;top:320.90px;font-size:4.100px;font-weight:400;color:#333;font-family:'Liberation Sans',sans-serif;-webkit-text-stroke:0.09px #333;-webkit-text-stroke:0.06px #333">New ADS</div>
<div class="a" style="left:550.90px;top:217.40px;width:76.30px;height:14.50px;background:#f5f5f5;border-radius:2px"></div>
<div class="t" style="left:564.60px;top:220.92px;font-size:4.500px;font-weight:400;color:#1e1e1e;font-family:'Liberation Sans',sans-serif;-webkit-text-stroke:0.09px #1e1e1e;">Simple</div>
<div class="t" style="left:564.60px;top:226.80px;font-size:3.500px;font-weight:400;color:#a0a0a0;font-family:'Liberation Sans',sans-serif;">How many x do y?</div>
<div class="t" style="left:564.60px;top:237.82px;font-size:4.500px;font-weight:400;color:#1e1e1e;font-family:'Liberation Sans',sans-serif;-webkit-text-stroke:0.09px #1e1e1e;">Funnel</div>
<div class="t" style="left:564.60px;top:244.10px;font-size:3.500px;font-weight:400;color:#a0a0a0;font-family:'Liberation Sans',sans-serif;">Who makes it through this sequence?</div>
<div class="t" style="left:564.60px;top:254.82px;font-size:4.500px;font-weight:400;color:#1e1e1e;font-family:'Liberation Sans',sans-serif;-webkit-text-stroke:0.09px #1e1e1e;">Retention</div>
<div class="t" style="left:564.60px;top:261.40px;font-size:3.500px;font-weight:400;color:#a0a0a0;font-family:'Liberation Sans',sans-serif;">Who does x and comes back to do y?</div>
<div class="t" style="left:564.60px;top:271.72px;font-size:4.500px;font-weight:400;color:#1e1e1e;font-family:'Liberation Sans',sans-serif;-webkit-text-stroke:0.09px #1e1e1e;">Cohort</div>
<div class="t" style="left:564.60px;top:278.10px;font-size:3.500px;font-weight:400;color:#a0a0a0;font-family:'Liberation Sans',sans-serif;">How many people match x criteria?</div>
<div class="t" style="left:564.60px;top:288.82px;font-size:4.500px;font-weight:400;color:#1e1e1e;font-family:'Liberation Sans',sans-serif;-webkit-text-stroke:0.09px #1e1e1e;">Profile</div>
<div class="t" style="left:564.60px;top:294.90px;font-size:3.500px;font-weight:400;color:#a0a0a0;font-family:'Liberation Sans',sans-serif;">How many x are there?</div>
<div class="t" style="left:564.60px;top:306.02px;font-size:4.500px;font-weight:400;color:#1e1e1e;font-family:'Liberation Sans',sans-serif;-webkit-text-stroke:0.09px #1e1e1e;">Custom Event</div>
<div class="t" style="left:564.60px;top:312.00px;font-size:3.500px;font-weight:400;color:#a0a0a0;font-family:'Liberation Sans',sans-serif;">Build your own event definition.</div>
<div class="t" style="left:564.60px;top:323.02px;font-size:4.500px;font-weight:400;color:#1e1e1e;font-family:'Liberation Sans',sans-serif;-webkit-text-stroke:0.09px #1e1e1e;">Formula</div>
<div class="t" style="left:564.60px;top:328.80px;font-size:3.500px;font-weight:400;color:#a0a0a0;font-family:'Liberation Sans',sans-serif;">Calculate using arithmetic operators.</div>
<div class="a" style="left:553.80px;top:218.80px;width:7.80px;height:8.40px;background:#e2dbfc;border:0.6px solid #a696f3;border-radius:1.5px"></div>
<div class="a" style="left:555.80px;top:221.00px;width:3.80px;height:3.90px;border:0.8px solid #9484f0;border-radius:50%"></div>
<svg class="a" style="left:553.6px;top:235px" width="8" height="8" viewBox="0 0 10 10"><path d="M0.5 1 L3 3 L5 1 L7 3 L9.5 1 L8.5 8 L5 9.5 L1.5 8 Z" fill="#fbd6ca" stroke="#f39a80" stroke-width="0.8"/><circle cx="5" cy="5.2" r="1.5" fill="#f39a80"/></svg>
<svg class="a" style="left:553.6px;top:252.4px" width="8" height="8" viewBox="0 0 10 10"><rect x="0.5" y="0.5" width="9" height="9" rx="2.5" fill="#d6f5ec" stroke="#7ad4bf" stroke-width="0.7"/><path d="M3 7 V4.5 L5 3 L7 4.5 V7 Z" fill="none" stroke="#7ad4bf" stroke-width="0.8"/></svg>
<svg class="a" style="left:554px;top:270.8px" width="7" height="5" viewBox="0 0 12 9"><circle cx="6" cy="2.8" r="2.2" fill="#444"/><path d="M1 9 Q6 3 11 9 Z" fill="#444"/><circle cx="2.5" cy="3.5" r="1.5" fill="#444"/><circle cx="9.5" cy="3.5" r="1.5" fill="#444"/></svg>
<div class="a" style="left:555.60px;top:288.30px;width:4.20px;height:4.20px;background:#666;border-radius:50%"></div>
<svg class="a" style="left:554.4px;top:304.6px" width="6" height="6" viewBox="0 0 10 10"><path d="M5 0.5 L6 4 L9.5 5 L6 6 L5 9.5 L4 6 L0.5 5 L4 4 Z" fill="#444"/></svg>
<div class="t" style="left:554.60px;top:322.51px;font-size:5.000px;font-weight:400;color:#444;font-family:'Liberation Sans',sans-serif;font-style:italic">ƒx</div>
</div></body></html>
